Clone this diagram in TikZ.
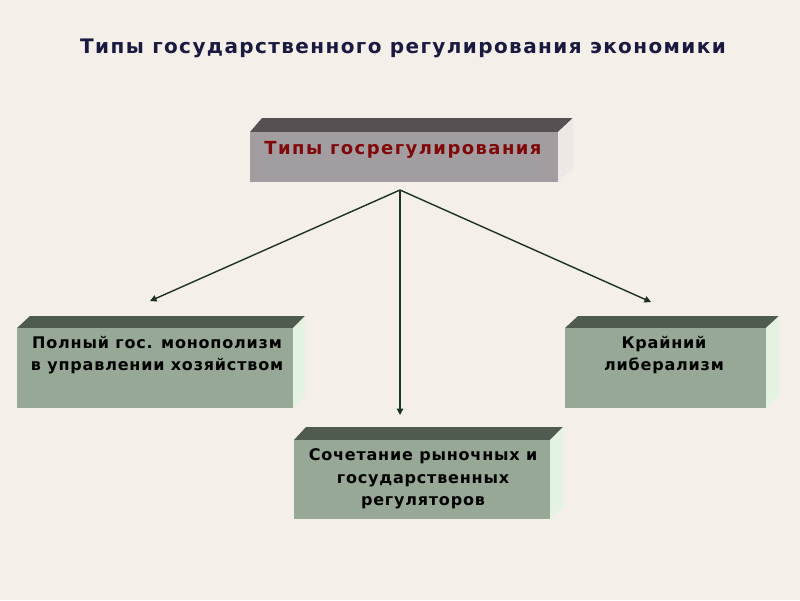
\documentclass[tikz,border=0pt]{standalone}
\usepackage{fontspec}
\setmainfont{DejaVu Sans}
\usetikzlibrary{arrows.meta}
\definecolor{bg}{HTML}{F5EFE9}
\definecolor{frontgreen}{HTML}{97A996}
\definecolor{topgreen}{HTML}{4E5B4E}
\definecolor{sidegreen}{HTML}{E4F2E2}
\definecolor{frontgray}{HTML}{A29DA1}
\definecolor{topgray}{HTML}{565052}
\definecolor{sidegray}{HTML}{EDE8E6}
\definecolor{titleblue}{HTML}{1A1A40}
\definecolor{darkred}{HTML}{800808}
\definecolor{arrowgreen}{HTML}{1E331E}
\tikzset{
  boxtext/.style={font=\bfseries\fontsize{16}{22.5}\selectfont\addfontfeature{LetterSpace=5}, align=center, text=black},
  conn/.style={draw=arrowgreen, line width=1.4pt, -{Triangle[length=6.5pt,width=6.5pt]}},
}
\begin{document}
\begin{tikzpicture}[x=1pt,y=-1pt]
\fill[bg] (0,0) rectangle (800,600);
\useasboundingbox (0,0) rectangle (800,600);
\node[font=\bfseries\fontsize{20}{24}\selectfont\addfontfeature{LetterSpace=7}, text=titleblue] (title) at (403,48) {Типы государственного регулирования экономики};
% top box
\fill[topgray] (250,132) -- (262,118) -- (573,118) -- (558,132) -- cycle;
\fill[sidegray] (558,132) -- (573,118) -- (573,168) -- (558,182) -- cycle;
\fill[frontgray] (250,132) rectangle (558,182);
\node[font=\bfseries\fontsize{18}{22}\selectfont\addfontfeature{LetterSpace=8}, text=darkred] (top) at (403,150) {Типы госрегулирования};
\coordinate (hub) at (400,190);
% left box
\fill[topgreen] (17,328) -- (30,316) -- (305,316) -- (293,328) -- cycle;
\fill[sidegreen] (293,328) -- (305,316) -- (305,396) -- (293,408) -- cycle;
\fill[frontgreen] (17,328) rectangle (293,408);
\node[boxtext] (left) at (157,355) {Полный гос. монополизм\\в управлении хозяйством};
% right box
\fill[topgreen] (565,328) -- (578,316) -- (779,316) -- (766,328) -- cycle;
\fill[sidegreen] (766,328) -- (779,316) -- (779,396) -- (766,408) -- cycle;
\fill[frontgreen] (565,328) rectangle (766,408);
\node[boxtext] (right) at (664,355) {Крайний\\либерализм};
% bottom box
\fill[topgreen] (294,440) -- (306,427) -- (563,427) -- (550,440) -- cycle;
\fill[sidegreen] (550,440) -- (563,427) -- (563,507) -- (550,519) -- cycle;
\fill[frontgreen] (294,440) rectangle (550,519);
\node[boxtext] (bottom) at (423,479) {Сочетание рыночных и\\государственных\\регуляторов};
% connectors
\coordinate (la) at (150,301);
\coordinate (ba) at (400,415);
\coordinate (ra) at (651,302);
\draw[conn] (hub) -- (la);
\draw[conn] (hub) -- (ba);
\draw[conn] (hub) -- (ra);
\end{tikzpicture}
\end{document}
